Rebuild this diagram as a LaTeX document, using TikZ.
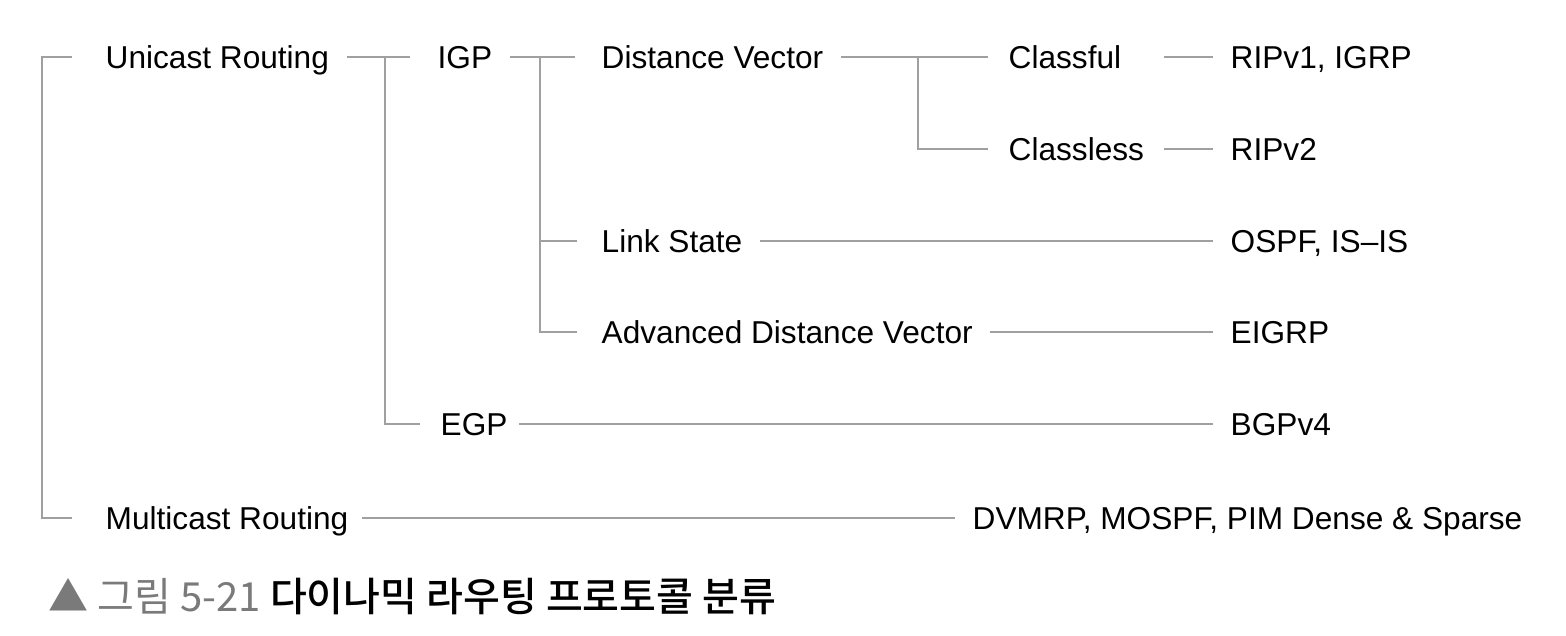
\documentclass[tikz,border=0pt]{standalone}
\usepackage{fontspec}
\setmainfont{Liberation Sans}
\newfontfamily\cjk{Noto Sans CJK KR}
\newfontfamily\cjkmed{Noto Sans CJK KR Medium}

\definecolor{linegray}{HTML}{A0A0A0}
\definecolor{capgray}{HTML}{7A7A7A}

\begin{document}
\begin{tikzpicture}[
	lbl/.style={anchor=west, inner sep=0pt, text height=6.4pt, text depth=0pt,
		font=\fontsize{9}{11}\selectfont, text=black},
	link/.style={draw=linegray, line width=0.6pt, shorten <=0.17cm, shorten >=0.17cm},
	bar/.style={draw=linegray, line width=0.6pt, shorten >=0.24cm}]
	\useasboundingbox (0,0) rectangle (15.66,6.36);

	\node[lbl] (uni) at (1.05,5.79) {Unicast Routing};
	\node[lbl] (igp) at (4.37,5.79) {IGP};
	\node[lbl] (dv) at (6.01,5.79) {Distance Vector};
	\node[lbl] (cful) at (10.08,5.79) {Classful};
	\node[lbl] (rip1) at (12.30,5.79) {RIPv1, IGRP};
	\node[lbl] (cless) at (10.08,4.87) {Classless};
	\node[lbl] (rip2) at (12.30,4.87) {RIPv2};
	\node[lbl] (ls) at (6.01,3.95) {Link State};
	\node[lbl] (ospf) at (12.30,3.95) {OSPF, IS--IS};
	\node[lbl] (adv) at (6.01,3.04) {Advanced Distance Vector};
	\node[lbl] (eigrp) at (12.30,3.04) {EIGRP};
	\node[lbl] (egp) at (4.40,2.12) {EGP};
	\node[lbl] (bgp) at (12.30,2.12) {BGPv4};
	\node[lbl] (multi) at (1.05,1.18) {Multicast Routing};
	\node[lbl] (mproto) at (9.72,1.18) {DVMRP, MOSPF, PIM Dense \& Sparse};

	\coordinate (j0) at (0.42,5.79);
	\coordinate (j1) at (3.85,5.79);
	\coordinate (j2) at (5.40,5.79);
	\coordinate (j3) at (9.18,5.79);

	\draw[link, shorten <=0.33cm, shorten >=0.33cm] (uni.west) -- (j0) |- (multi.west);
	\draw[link, shorten >=0.27cm] (uni.east) -- (igp.west);
	\draw[bar, shorten >=0.2cm] (j1) |- (egp.west);
	\draw[link, shorten >=0.26cm] (igp.east) -- (dv.west);
	\draw[bar] (j2) |- (ls.west);
	\draw[bar] (j2) |- (adv.west);
	\draw[link, shorten >=0.2cm] (dv.east) -- (cful.west);
	\draw[bar, shorten >=0.2cm] (j3) |- (cless.west);
	\draw[link, shorten <=0.19cm] (cless.east |- cful) -- (rip1.west);
	\draw[link, shorten <=0.19cm] (cless.east) -- (rip2.west);
	\draw[link] (ls.east) -- (ospf.west);
	\draw[link] (adv.east) -- (eigrp.west);
	\draw[link, shorten <=0.11cm] (egp.east) -- (bgp.west);
	\draw[link, shorten <=0.13cm] (multi.east) -- (mproto.west);

	% caption
	\node[anchor=west, inner sep=0pt, font=\cjkmed\fontsize{11.4}{13}\selectfont] (cap) at (0.48,0.39)
		{\textcolor{capgray}{\cjk ▲ 그림 5-21} 다이나믹 라우팅 프로토콜 분류};
\end{tikzpicture}
\end{document}
